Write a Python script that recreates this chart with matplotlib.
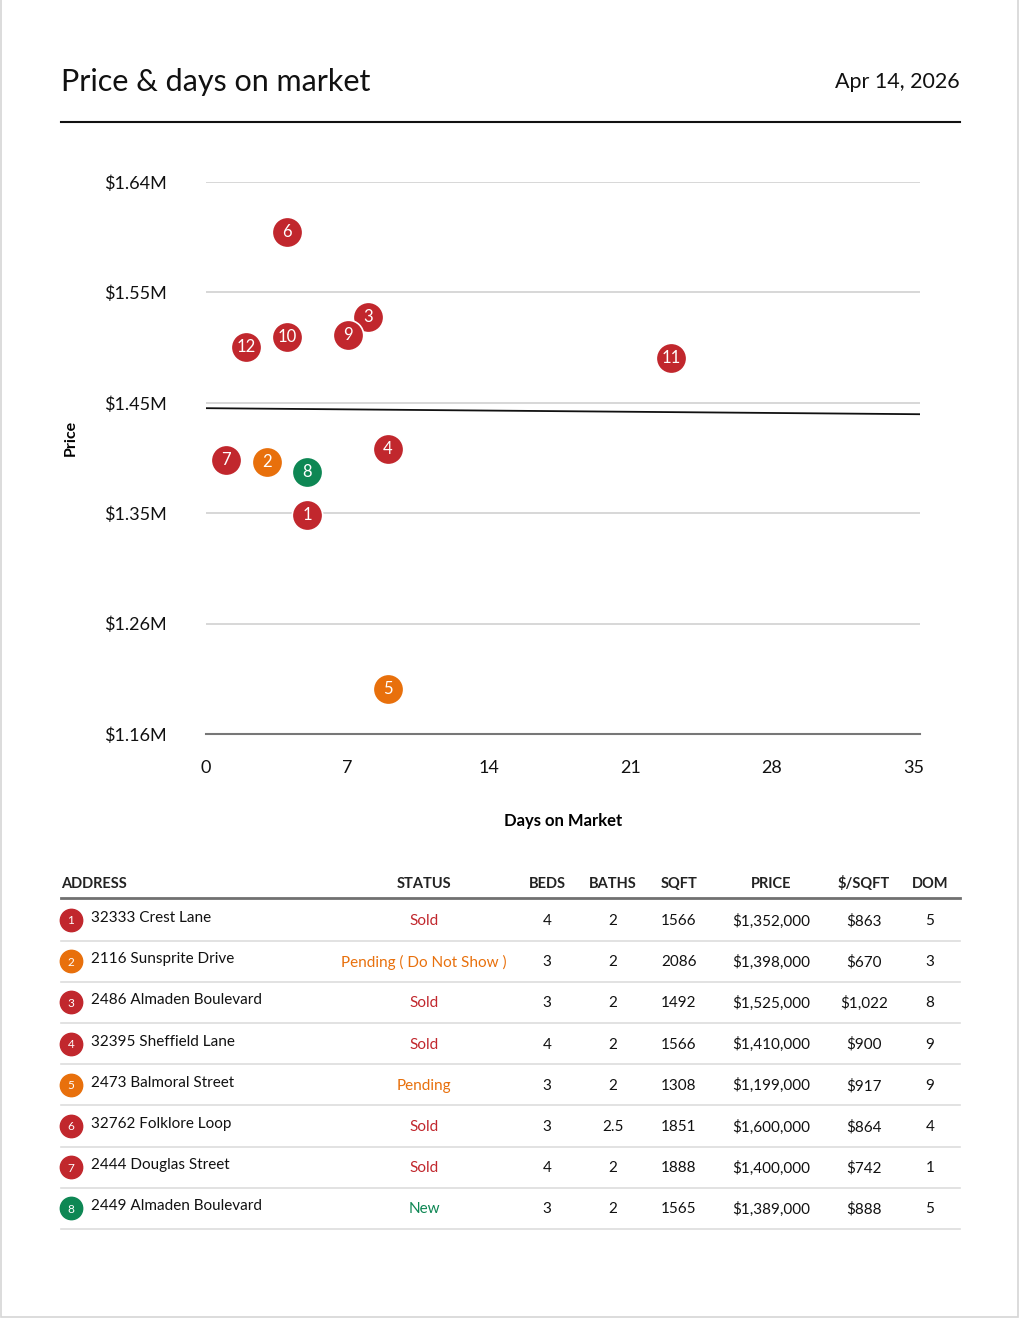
import matplotlib.pyplot as plt
import numpy as np
from matplotlib.patches import Rectangle

plt.rcParams['font.family'] = ['Lato', 'DejaVu Sans']

# scatter data (numbered listings)
point_ids = ['1', '2', '3', '4', '5', '6', '7', '8', '9', '10', '11', '12']
days = [5, 3, 8, 9, 9, 4, 1, 5, 7, 4, 23, 2]
prices = [1352000, 1398000, 1525000, 1410000, 1199000, 1600000,
          1400000, 1389000, 1510000, 1508000, 1489000, 1499000]
statuses = ['Sold', 'Pending ( Do Not Show )', 'Sold', 'Sold', 'Pending', 'Sold',
            'Sold', 'New', 'Sold', 'Sold', 'Sold', 'Sold']

# trend line end points
trend_days = [0, 35.32]
trend_prices = [1445400, 1440100]

# axis range
y_min, y_max = 1159600, 1643800
x_ticks = [0, 7, 14, 21, 28, 35]

# table rows
addresses = ['32333 Crest Lane', '2116 Sunsprite Drive', '2486 Almaden Boulevard',
             '32395 Sheffield Lane', '2473 Balmoral Street', '32762 Folklore Loop',
             '2444 Douglas Street', '2449 Almaden Boulevard']
beds = ['4', '3', '3', '4', '3', '3', '4', '3']
baths = ['2', '2', '2', '2', '2', '2.5', '2', '2']
sqft = ['1566', '2086', '1492', '1566', '1308', '1851', '1888', '1565']
price_txt = ['$1,352,000', '$1,398,000', '$1,525,000', '$1,410,000',
             '$1,199,000', '$1,600,000', '$1,400,000', '$1,389,000']
ppsf = ['$863', '$670', '$1,022', '$900', '$917', '$864', '$742', '$888']
dom = ['5', '3', '8', '9', '9', '4', '1', '5']
headers = ['ADDRESS', 'STATUS', 'BEDS', 'BATHS', 'SQFT', 'PRICE', '$/SQFT', 'DOM']

status_colors = {'Sold': '#C1272D', 'Pending': '#E8700C', 'New': '#0E8754'}


def color_of(status):
    return status_colors[status.split()[0]]


fig = plt.figure(figsize=(10.2, 13.2), dpi=100)

# overlay in pixel units for page elements
ov = fig.add_axes([0, 0, 1, 1])
ov.set_xlim(0, 1020)
ov.set_ylim(1320, 0)
ov.axis('off')
ov.add_patch(Rectangle((1, -5), 1017, 1322, fill=False, edgecolor='#d6d6d6', lw=1.2))

ov.text(61, 82, 'Price & days on market', fontsize=22, color='#111111', va='center', ha='left')
ov.text(960, 82, 'Apr 14, 2026', fontsize=15.5, color='#111111', va='center', ha='right')
ov.plot([61, 960], [122, 122], color='#111111', lw=1.5)

# chart
ax = fig.add_axes([206 / 1020, 1 - 734 / 1320, 714 / 1020, 552 / 1320])
ax.set_xlim(0, 35.32)
ax.set_ylim(y_min, y_max)
yticks = np.linspace(y_min, y_max, 6)
ax.set_yticks(yticks)
ax.set_yticklabels(['${:.2f}M'.format(v / 1e6) for v in yticks])
ax.set_xticks(x_ticks)
ax.tick_params(length=0, labelsize=13, colors='#111111')
ax.tick_params(axis='y', pad=28)
ax.tick_params(axis='x', pad=19)
for s in ['top', 'right', 'left']:
    ax.spines[s].set_visible(False)
ax.spines['bottom'].set_color('#777777')
ax.spines['bottom'].set_linewidth(1.5)
ax.grid(True, axis='y', color='#d4d4d4', lw=1.3)
ax.set_axisbelow(True)

ax.plot(trend_days, trend_prices, color='#111111', lw=1.3, zorder=2)

for i in range(len(days)):
    ax.scatter(days[i], prices[i], s=480, color=color_of(statuses[i]),
               edgecolors='white', linewidths=1.2, zorder=3 + i)
    ax.text(days[i], prices[i], point_ids[i], color='white', fontsize=12,
            ha='center', va='center', zorder=3 + i)

ov.text(71, 438, 'Price', rotation=90, fontsize=11.5, fontweight='bold', ha='center', va='center')
ov.text(563, 821, 'Days on Market', fontsize=12, fontweight='bold', ha='center', va='center')

# table
col_x = [61, 424, 547, 613, 679, 771, 864, 930]
for j, h in enumerate(headers):
    ov.text(col_x[j], 884, h, fontsize=10.5, fontweight='bold', color='#222222',
            ha='left' if j == 0 else 'center', va='center')
ov.plot([61, 960], [898, 898], color='#707070', lw=2)

row_h = 41.2
for i in range(len(addresses)):
    y = 920 + i * row_h
    ov.scatter(71, y, s=260, color=color_of(statuses[i]), zorder=3)
    ov.text(71, y + 1, point_ids[i], color='white', fontsize=8.5, ha='center', va='center', zorder=4)
    ov.text(91, y - 2, addresses[i], fontsize=11, color='#111111', ha='left', va='center')
    ov.text(col_x[1], y + 1, statuses[i], fontsize=11, color=color_of(statuses[i]), ha='center', va='center')
    vals = [beds[i], baths[i], sqft[i], price_txt[i], ppsf[i], dom[i]]
    for j, v in enumerate(vals):
        ov.text(col_x[j + 2], y + 1, v, fontsize=11, color='#111111', ha='center', va='center')
    ov.plot([61, 960], [y + 20.5, y + 20.5], color='#dddddd', lw=1.2)

fig.savefig('out.png', dpi=100)
